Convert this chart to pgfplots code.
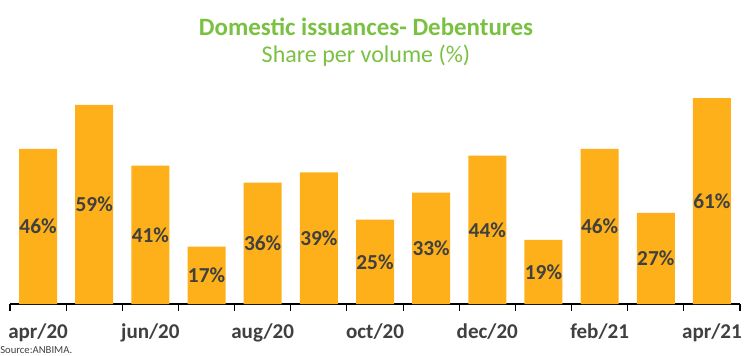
\documentclass[border=0pt]{standalone}
\usepackage{fontspec}
\setmainfont{Carlito}
\usepackage{pgfplots}
\pgfplotsset{compat=1.18}
\usepackage{pgfplotstable}
\definecolor{barorange}{RGB}{253,176,26}
\definecolor{titlegreen}{RGB}{122,193,66}
\definecolor{txtgrey}{RGB}{64,64,64}
\pgfplotstableread{
x v
0 46
1 59
2 41
3 17
4 36
5 39
6 25
7 33
8 44
9 19
10 46
11 27
12 61
}\datatab
\begin{document}
\begin{tikzpicture}
\useasboundingbox (0,0) rectangle (562.5pt,266.25pt);
\begin{axis}[
  at={(7.5pt,38.25pt)}, anchor=south west,
  scale only axis, width=547.5pt, height=162pt,
  xmin=-0.5, xmax=12.5, ymin=0, ymax=64,
  enlargelimits=false,
  axis x line*=bottom, axis y line=none,
  axis line style={-, draw=black, line width=0.8pt},
  xtick={0,2,4,6,8,10,12},
  xticklabels={apr/20,jun/20,aug/20,oct/20,dec/20,feb/21,apr/21},
  major tick length=0pt,
  minor xtick={-0.5,0.5,...,12.5},
  minor tick length=5pt,
  tick align=outside,
  minor tick style={draw=black, line width=0.8pt},
  xticklabel style={font=\fontsize{15.8}{19}\selectfont\bfseries, text=txtgrey, yshift=-11.5pt},
  clip=false,
]
\addplot[ybar, bar width=28.5pt, bar shift=0pt, fill=barorange, draw=none] table[x=x,y=v] {\datatab};
\addplot[draw=none, mark=none, nodes near coords={\pgfmathprintnumber[assume math mode=true, fixed, precision=0]{\pgfplotspointmeta}\%},
  every node near coord/.style={font=\fontsize{16}{19}\selectfont\bfseries, text=txtgrey, anchor=center},
  point meta=\thisrow{v}] table[x=x, y expr=\thisrow{v}/2] {\datatab};
\end{axis}
\node[font=\fontsize{18.7}{22}\selectfont\bfseries, text=titlegreen] at (274.5pt,246pt) {Domestic issuances- Debentures};
\node[font=\fontsize{18}{21}\selectfont, text=titlegreen] at (274.5pt,224.5pt) {Share per volume (\%)};
\node[font=\fontsize{8}{9}\selectfont, text=txtgrey, anchor=west, inner sep=0pt] at (0pt,3.5pt) {Source:ANBIMA.};
\end{tikzpicture}
\end{document}
